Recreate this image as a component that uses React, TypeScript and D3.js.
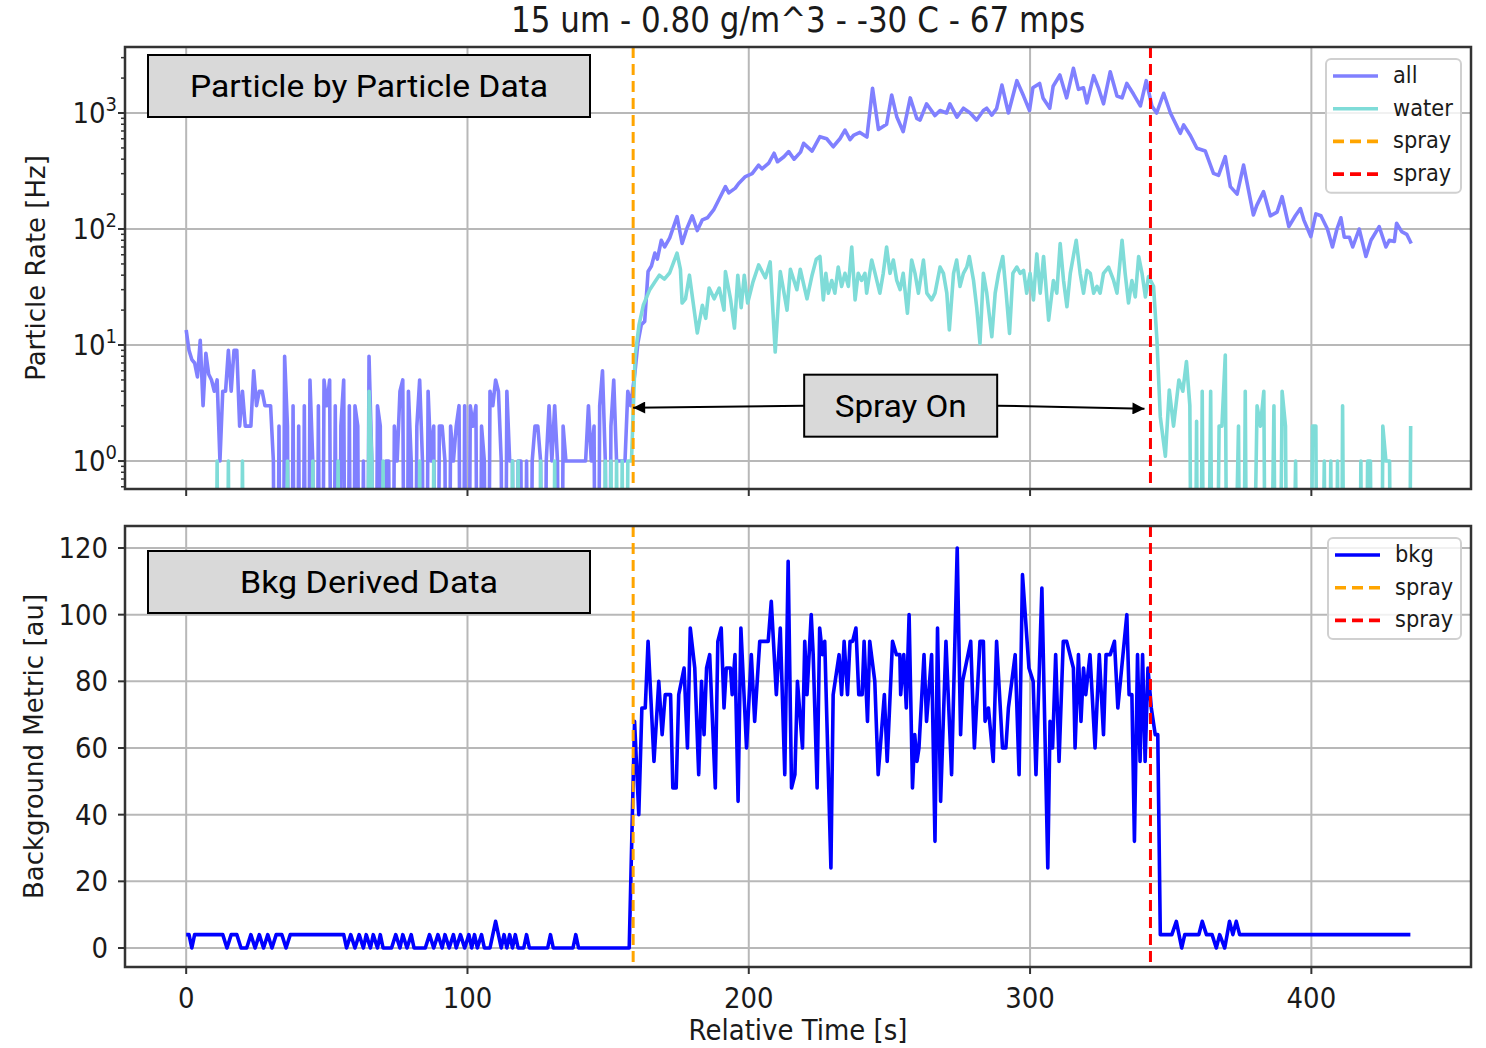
import React from "react";
import * as d3 from "d3";

// ---- values ----
const timeTicks = [0, 100, 200, 300, 400];
const rateTicks = [1, 10, 100, 1000];
const bkgTicks = [0, 20, 40, 60, 80, 100, 120];
const sprayOnTime = 158.9;
const sprayOffTime = 342.8;

// "all" rate [Hz], one value per second from t = 0 to 158 (0 = no counts)
const allPre = [
  13.5, 9, 7.5, 7, 5.3, 11, 3, 8.5, 5.6, 5,
  4, 5, 1, 4, 4, 9, 4, 9, 9, 2,
  4, 2, 2, 2, 6, 3, 4, 4, 3, 3,
  3, 1, 0, 2, 0, 8, 2, 0, 3, 0,
  2, 0, 3, 0, 5, 1, 0, 3, 0, 5,
  3, 5, 0, 3, 0, 2, 5, 0, 3, 0,
  3, 2, 0, 1, 0, 8, 1, 0, 3, 2,
  0, 1, 1, 0, 2, 1, 4, 5, 0, 4,
  1, 0, 2, 5, 1, 0, 4, 1, 2, 0,
  2, 2, 1, 0, 2, 1, 2, 3, 0, 3,
  0, 3, 2, 3, 0, 2, 1, 0, 4, 3,
  5, 4, 1, 0, 4, 1, 1, 0, 1, 1,
  0, 1, 0, 1, 2, 2, 1, 0, 1, 3,
  1, 3, 1, 0, 2, 1, 1, 1, 1, 1,
  1, 1, 1, 3, 1, 2, 0, 3, 6, 1,
  0, 2, 5, 1, 1, 1, 1, 4, 3,
];

// "all" rate after spray start, [time, Hz]
const allSpray: [number, number][] = [
  [159.5, 5.7], [160.6, 10.5], [161.8, 15], [163, 16], [164.2, 43], [165.4, 48], [166.6, 62],
  [167.5, 55], [168.9, 80], [170.1, 70], [171.9, 84], [174.5, 128], [176.3, 75], [178, 101],
  [179.9, 130], [181.7, 97], [183.5, 120], [185.3, 125], [187.5, 146], [189.3, 178], [191.7, 232],
  [192.9, 205], [195.2, 225], [196.4, 247], [198.8, 283], [201.2, 300], [203.5, 355], [204.7, 330],
  [207.1, 370], [209, 450], [210.2, 380], [212.5, 420], [214.2, 465], [216.1, 400], [218.4, 460],
  [219.5, 548], [222.5, 470], [225.3, 625], [227.7, 600], [230, 512], [232.4, 600], [234.2, 713],
  [236, 590], [237.2, 640], [239.5, 680], [242, 620], [244, 1633], [246.1, 720], [249, 800],
  [250.8, 1430], [252.6, 930], [254.9, 690], [257.4, 1350], [259.7, 900], [260.9, 870], [263.2, 1200],
  [266.2, 950], [268, 1050], [270.3, 1000], [271.5, 1200], [274, 920], [276.3, 1100], [278.7, 1000],
  [281, 870], [283.4, 1050], [284.6, 1100], [286.4, 960], [288.1, 1090], [290, 1740], [292.3, 1000],
  [295.3, 1900], [297.7, 1400], [299.8, 1050], [301, 1650], [303.4, 1800], [304.6, 1350], [307, 1100],
  [308.2, 1700], [310.6, 2126], [313, 1350], [315.4, 2430], [317.2, 1600], [319, 1650], [320.2, 1220],
  [322.6, 2100], [324.4, 1620], [326.1, 1200], [328.5, 2270], [330.9, 1400], [332.7, 1350], [334.4, 1800],
  [336.8, 1450], [339.2, 1150], [341.3, 1900], [343.3, 1150], [345, 1000], [347.5, 1480], [349.9, 1000],
  [353.4, 668], [354.6, 790], [357, 640], [359.3, 497], [362.3, 470], [365.2, 302], [367, 290],
  [369.4, 420], [371.2, 232], [373.6, 200], [375.9, 356], [379.4, 132], [380.6, 160], [383, 210],
  [385.4, 130], [387.8, 140], [389.6, 190], [392, 105], [394.3, 130], [396.1, 150], [397.3, 120],
  [399.8, 86], [401.6, 135], [403.4, 130], [405.7, 100], [407.5, 70], [409.1, 100], [410.5, 125],
  [411.7, 85], [413.5, 85], [414.7, 70], [417, 100], [419.4, 58], [421.2, 80], [424.1, 105],
  [426.5, 70], [427.7, 80], [429.5, 78], [430.3, 112], [432.1, 95], [433.9, 90], [435.5, 75],
];

// "water" rate [Hz], one value per second from t = 0 to 157
const waterPre = [
  0, 0, 0, 0, 0, 0, 0, 0, 0, 0,
  0, 1, 0, 0, 0, 1, 0, 0, 0, 0,
  1, 0, 0, 0, 0, 0, 0, 0, 0, 0,
  0, 0, 0, 0, 0, 0, 1, 0, 0, 0,
  0, 0, 0, 0, 0, 1, 0, 0, 0, 0,
  0, 0, 0, 0, 1, 0, 0, 0, 0, 0,
  0, 0, 0, 0, 0, 4, 1, 0, 0, 0,
  1, 0, 0, 0, 0, 0, 0, 0, 0, 0,
  0, 0, 0, 1, 0, 0, 0, 0, 1, 0,
  0, 0, 0, 0, 0, 0, 0, 0, 0, 0,
  0, 0, 0, 0, 0, 0, 0, 0, 0, 0,
  0, 0, 0, 0, 0, 0, 1, 0, 1, 0,
  0, 0, 0, 0, 0, 0, 1, 0, 0, 0,
  0, 1, 0, 0, 0, 0, 0, 0, 0, 0,
  0, 0, 0, 0, 0, 0, 0, 0, 0, 1,
  0, 1, 0, 1, 0, 1, 0, 1,
];

// "water" rate after spray start, [time, Hz]
const waterSpray: [number, number][] = [
  [158.3, 1], [159.6, 8], [161, 15], [162.5, 22], [164.8, 30], [166.6, 35], [168.2, 40], [170, 37],
  [171.9, 42], [174.5, 62], [175.7, 45], [176.3, 23], [177.5, 25], [178.9, 40], [181.7, 12.7],
  [183.5, 22], [184.7, 17], [185.9, 31], [187.7, 25], [189.5, 31], [191.2, 20], [191.7, 43],
  [193.5, 25], [194.9, 14], [196.1, 40], [197.3, 21], [198.4, 40], [199.6, 23], [201.5, 35],
  [203.5, 49], [205.9, 38], [207.6, 52], [209.4, 8.7], [211.2, 43], [213.6, 20], [214.8, 45],
  [217.1, 30], [218.3, 45], [220.7, 25], [222.5, 40], [224, 55], [225.3, 58], [226.5, 24.5],
  [227.4, 41.5], [228.3, 28], [229.5, 36], [230.6, 28], [231.8, 47], [233, 32], [234.2, 41.5],
  [235.4, 32], [236.6, 70], [237.8, 24.5], [238.9, 41.5], [240.1, 36], [241.3, 41.5], [241.9, 28],
  [243.7, 54], [244.9, 41.5], [246.6, 28], [247.8, 41.5], [249, 70], [250.2, 41.5], [251.4, 54],
  [252.6, 36], [253.8, 30], [254.9, 41.5], [256.4, 18.8], [257.9, 54], [259.1, 41.5], [260.3, 28],
  [262.1, 54], [263.3, 28], [265, 24.5], [266.2, 28], [268, 47], [269.2, 41.5], [270.4, 28],
  [271.3, 13.5], [272.8, 41.5], [273.9, 54], [275.1, 32], [276.3, 41.5], [277.5, 47], [278.4, 58],
  [279.9, 36], [281, 21.4], [282.2, 10.3], [283.4, 41.5], [284.6, 28], [286.4, 11.8], [287.6, 28],
  [288.8, 41.5], [290.3, 58], [291.5, 28], [292.7, 12.6], [293.9, 41.5], [295.3, 47], [296.5, 41.5],
  [297.7, 44], [298.8, 28], [300, 41.5], [301.2, 24.5], [302.4, 61], [303.6, 28], [304.8, 58],
  [306.6, 16.4], [308.3, 36], [309.5, 28], [310.7, 75], [311.9, 36], [313.1, 21.4], [314.3, 41.5],
  [316.4, 80], [317.8, 41.5], [319, 28], [320.2, 44], [321.4, 41.5], [322.6, 28], [323.8, 32],
  [324.9, 28], [326.1, 41.5], [327.9, 47], [329.7, 36], [330.9, 28], [332.7, 80], [333.8, 41.5],
  [335, 23], [336.2, 36], [337.4, 26], [338.6, 58], [339.8, 41.5], [341, 26], [342.1, 39],
  [343.9, 32], [345.1, 11], [346.3, 2.4], [348.1, 1.1], [349.5, 4.1], [351, 2], [352.9, 5],
  [354.3, 4], [355.6, 7.2], [356.8, 3], [358, 0], [359.2, 2.2], [360, 0], [361.2, 4], [362.4, 0],
  [364.2, 4], [365.4, 0], [367.2, 2], [368.2, 2], [369.4, 8.2], [370.6, 0], [374.1, 2], [375.3, 0],
  [376.5, 4], [377.7, 0], [380.7, 3], [381.9, 2], [383.1, 4], [384.3, 0], [386.7, 3], [387.9, 0],
  [389.6, 4], [390.8, 2], [392, 0], [394.4, 1], [395.6, 0], [399.2, 0], [400.4, 2], [401.6, 2],
  [402.5, 0], [404.6, 1], [405.6, 0], [406.9, 1], [408, 0], [409.3, 1], [410.2, 0], [411.1, 3],
  [412.3, 0], [416.5, 0], [417.6, 1], [418.6, 0], [420, 1], [421, 1], [422, 0], [424.5, 0],
  [425.4, 2], [426.5, 1], [427.8, 1], [429, 0], [434.3, 0], [435.3, 2],
];

// background metric [au], [time, value]
const bkgPre: [number, number][] = [
  [0, 4], [1, 4], [2, 0], [3, 4], [13, 4], [14.5, 0], [16, 4], [18, 4], [19.5, 0], [21.5, 0],
  [23, 4], [24.5, 0], [26, 4], [27.5, 0], [29, 4], [30.5, 0], [32, 4], [34, 4], [35.5, 0], [37, 4],
  [56, 4], [57, 0], [58.5, 4], [60, 0], [61.5, 4], [63, 0], [64, 4], [65.5, 0], [66.5, 4], [68, 0],
  [69, 4], [70, 0], [73, 0], [74.5, 4], [76, 0], [77, 4], [78.5, 0], [80, 4], [81, 0], [85, 0],
  [86.5, 4], [88, 0], [89.5, 4], [91, 0], [92, 4], [93.5, 0], [95, 4], [96, 0], [97.5, 4], [99, 0],
  [100.5, 4], [101.5, 0], [102.5, 4], [103.5, 0], [105, 4], [106, 0], [108, 0], [109, 4], [110, 8],
  [111, 4], [112, 0], [113, 4], [114, 0], [115, 4], [116, 0], [117, 4], [118, 0], [120, 0], [121, 4],
  [122, 0], [128.5, 0], [129.5, 4], [130.5, 0], [137.5, 0], [138.5, 4], [139.5, 0], [157.5, 0],
];
const bkgSpray: [number, number][] = [
  [159.4, 68], [160.9, 40], [162, 72], [163.2, 72], [164.2, 92], [166.3, 56], [168, 80], [169.2, 64],
  [170.3, 76], [172.2, 76], [173, 48], [174.2, 48], [175.1, 76], [177, 84], [178.2, 60], [179.2, 96],
  [180.8, 84], [182.2, 52], [183.2, 80], [184.1, 64], [185, 84], [186.1, 88], [188.1, 48], [189, 92],
  [190.2, 96], [191.2, 72], [192, 84], [193.5, 84], [194.1, 76], [195.1, 88], [196.2, 44], [197.2, 96],
  [199.2, 60], [200.9, 88], [202.1, 68], [203.9, 92], [206.9, 92], [208, 104], [209.8, 76], [211.2, 96],
  [212.8, 52], [214, 116], [215.2, 48], [216.4, 52], [217.3, 80], [219.1, 60], [219.9, 92], [220.7, 76],
  [222.2, 100], [222.9, 88], [224.3, 48], [225.2, 96], [226.2, 88], [227, 92], [229.2, 24], [230, 76],
  [232.1, 88], [233, 76], [233.9, 92], [235.1, 76], [236, 92], [236.9, 92], [238.1, 96], [239.1, 76],
  [240.3, 76], [241, 92], [242.2, 68], [243, 92], [244.8, 80], [246, 52], [248.2, 76], [249.2, 56],
  [251.1, 92], [252.5, 88], [253.7, 88], [254, 76], [255.1, 88], [256, 72], [257, 100], [258.2, 48],
  [259, 64], [259.8, 56], [260.5, 60], [262.3, 88], [263.2, 68], [265, 88], [266.2, 32], [267.1, 96],
  [268.2, 44], [270.1, 92], [272.1, 52], [274.1, 120], [275.3, 64], [276, 80], [278.9, 92], [280.2, 60],
  [282.2, 92], [283.4, 92], [284, 68], [285.2, 72], [286.9, 56], [288.1, 92], [290.2, 60], [291.4, 60],
  [292.3, 72], [294.7, 88], [296.1, 52], [297.3, 112], [299.6, 84], [301.1, 80], [302.1, 52],
  [304.2, 108], [306.3, 24], [307.1, 68], [308, 60], [309.1, 88], [310.3, 56], [311.8, 92], [313, 92],
  [315.4, 84], [316, 60], [317.2, 88], [318.1, 68], [319, 84], [319.8, 76], [321.3, 88], [323.1, 60],
  [324.6, 88], [326.1, 64], [327, 88], [328.5, 88], [330, 92], [331.2, 72], [334.4, 100], [335.2, 76],
  [336.2, 76], [337.1, 32], [338.2, 88], [339.1, 56], [340, 88], [340.9, 56], [341.9, 84], [343.1, 72],
  [344.5, 64], [345.4, 64],
];
const bkgPost: [number, number][] = [
  [346.3, 4], [350.4, 4], [352, 8], [353.9, 0], [355, 4], [360, 4], [361.2, 8], [362.7, 4], [364.7, 4],
  [366.2, 0], [367.4, 4], [369.2, 0], [370.9, 8], [372.1, 4], [373.3, 8], [374.5, 4], [435.2, 4],
];

// ---- layout ----
const W = 1486;
const H = 1048;
const LEFT = 125;
const RIGHT = 1471;
const TOP_P = { top: 47, bottom: 489 };
const BOT_P = { top: 526, bottom: 967 };

const FONT = "'DejaVu Sans', sans-serif";
const BOX_FONT = "Roboto, 'Noto Sans', sans-serif";
const TXT = "#1a1a1a";
const GRID = "#b8b8b8";
const ALL_C = "#8080ff";
const WATER_C = "#7fdcd8";
const BKG_C = "#0000ff";
const ORANGE = "#ffa500";
const RED = "#ff0000";
const LW = 3.6;

type Pt = [number, number];

const allPoints: Pt[] = allPre.map((v, i) => [i, v] as Pt).concat(allSpray);
const waterPoints: Pt[] = waterPre.map((v, i) => [i, v] as Pt).concat(waterSpray);
const bkgPoints: Pt[] = bkgPre.concat(bkgSpray, bkgPost);

const x = d3.scaleLinear().domain([-21.75, 456.75]).range([LEFT, RIGHT]);
const yRate = d3.scaleLog().domain([0.574, 3707]).range([TOP_P.bottom, TOP_P.top]);
const yBkg = d3.scaleLinear().domain([-5.7, 126.6]).range([BOT_P.bottom, BOT_P.top]);

const rateLine = d3
  .line<Pt>()
  .x((d) => x(d[0]))
  .y((d) => (d[1] > 0 ? yRate(d[1]) : yRate(1e-4)));
const bkgLine = d3
  .line<Pt>()
  .x((d) => x(d[0]))
  .y((d) => yBkg(d[1]));

const [rMin, rMax] = yRate.domain();
const minorRate = d3
  .range(-1, 4)
  .flatMap((k) => d3.range(2, 10).map((m) => m * Math.pow(10, k)))
  .filter((v) => v >= rMin && v <= rMax);

// matplotlib text in the reference is drawn a little taller than wide
const STRETCH = 1.12;
const MText = ({ x0, y0, size, anchor = "start", rotate = 0, children }: { x0: number; y0: number; size: number; anchor?: string; rotate?: number; children: React.ReactNode }) => (
  <text
    transform={`translate(${x0},${y0}) rotate(${rotate}) scale(1,${rotate ? 1 : STRETCH})`}
    textAnchor={anchor}
    fontSize={size}
    fontFamily={FONT}
    fill={TXT}
  >
    {children}
  </text>
);

const Legend = ({ x0, y0, w, items }: { x0: number; y0: number; w: number; items: { label: string; color: string; dash?: boolean }[] }) => {
  const rowH = 32.7;
  const h = items.length * rowH + 3;
  return (
    <g>
      <rect x={x0} y={y0} width={w} height={h} rx={5} fill="#fff" fillOpacity={0.8} stroke="#d0d0d0" strokeWidth={2} />
      {items.map((it, i) => {
        const cy = y0 + 17 + i * rowH;
        return (
          <g key={i}>
            <line
              x1={x0 + 7}
              x2={x0 + 52}
              y1={cy}
              y2={cy}
              stroke={it.color}
              strokeWidth={LW}
              strokeDasharray={it.dash ? "11,6" : undefined}
            />
            <MText x0={x0 + 67} y0={cy + 7} size={21}>
              {it.label}
            </MText>
          </g>
        );
      })}
    </g>
  );
};

const NoteBox = ({ cx, cy, w, h, label, len }: { cx: number; cy: number; w: number; h: number; label: string; len: number }) => (
  <g>
    <rect x={cx - w / 2} y={cy - h / 2} width={w} height={h} fill="#d9d9d9" stroke="#000" strokeWidth={2} />
    <text
      x={cx}
      y={cy + 11}
      textAnchor="middle"
      fontSize={32}
      fontFamily={BOX_FONT}
      fill="#000"
      textLength={len}
      lengthAdjust="spacingAndGlyphs"
    >
      {label}
    </text>
  </g>
);

const Frame = ({ top, bottom }: { top: number; bottom: number }) => (
  <rect x={LEFT} y={top} width={RIGHT - LEFT} height={bottom - top} fill="none" stroke="#333" strokeWidth={2.5} />
);

export default function App() {
  const arrowY = yRate(3);
  const boxCx = x(254);
  const boxW = 193;
  return (
    <svg width={W} height={H} style={{ display: "block", position: "absolute", left: 0, top: 0, background: "#fff" }}>
      <defs>
        <clipPath id="clipTop">
          <rect x={LEFT} y={TOP_P.top} width={RIGHT - LEFT} height={TOP_P.bottom - TOP_P.top} />
        </clipPath>
        <clipPath id="clipBot">
          <rect x={LEFT} y={BOT_P.top} width={RIGHT - LEFT} height={BOT_P.bottom - BOT_P.top} />
        </clipPath>
        <marker id="arrowHead" viewBox="0 0 10 10" refX={10} refY={5} markerWidth={7} markerHeight={6} orient="auto" markerUnits="strokeWidth">
          <path d="M0,0 L10,5 L0,10 z" fill="#000" />
        </marker>
      </defs>

      {/* title */}
      <MText x0={798} y0={32} size={31} anchor="middle">
        15 um - 0.80 g/m^3 - -30 C - 67 mps
      </MText>

      {/* ---------- top panel ---------- */}
      <g>
        {timeTicks.map((t) => (
          <line key={t} x1={x(t)} x2={x(t)} y1={TOP_P.top} y2={TOP_P.bottom} stroke={GRID} strokeWidth={2} />
        ))}
        {rateTicks.map((v) => (
          <line key={v} x1={LEFT} x2={RIGHT} y1={yRate(v)} y2={yRate(v)} stroke={GRID} strokeWidth={2} />
        ))}
        <g clipPath="url(#clipTop)">
          <path d={rateLine(allPoints) || ""} fill="none" stroke={ALL_C} strokeWidth={LW} strokeLinejoin="round" />
          <path d={rateLine(waterPoints) || ""} fill="none" stroke={WATER_C} strokeWidth={LW} strokeLinejoin="round" />
          <line x1={x(sprayOnTime)} x2={x(sprayOnTime)} y1={TOP_P.top} y2={TOP_P.bottom} stroke={ORANGE} strokeWidth={3} strokeDasharray="11,6" />
          <line x1={x(sprayOffTime)} x2={x(sprayOffTime)} y1={TOP_P.top} y2={TOP_P.bottom} stroke={RED} strokeWidth={3} strokeDasharray="11,6" />
        </g>
        <Frame top={TOP_P.top} bottom={TOP_P.bottom} />
        {rateTicks.map((v) => (
          <g key={v}>
            <line x1={LEFT - 7} x2={LEFT} y1={yRate(v)} y2={yRate(v)} stroke="#333" strokeWidth={2} />
            <MText x0={LEFT - 8} y0={yRate(v) + 10} size={26} anchor="end">
              10
              <tspan dy={-11} fontSize={18}>
                {Math.round(Math.log10(v))}
              </tspan>
            </MText>
          </g>
        ))}
        {minorRate.map((v) => (
          <line key={v} x1={LEFT - 4} x2={LEFT} y1={yRate(v)} y2={yRate(v)} stroke="#333" strokeWidth={1.5} />
        ))}
        {timeTicks.map((t) => (
          <line key={t} x1={x(t)} x2={x(t)} y1={TOP_P.bottom} y2={TOP_P.bottom + 7} stroke="#333" strokeWidth={2} />
        ))}
        <MText x0={45} y0={(TOP_P.top + TOP_P.bottom) / 2} size={26} anchor="middle" rotate={-90}>
          Particle Rate [Hz]
        </MText>
        <Legend
          x0={1326}
          y0={59}
          w={135}
          items={[
            { label: "all", color: ALL_C },
            { label: "water", color: WATER_C },
            { label: "spray", color: ORANGE, dash: true },
            { label: "spray", color: RED, dash: true },
          ]}
        />
        <NoteBox cx={369} cy={86} w={442} h={62} label="Particle by Particle Data" len={358} />
        <line x1={boxCx - boxW / 2} y1={arrowY} x2={x(sprayOnTime)} y2={arrowY + 2} stroke="#000" strokeWidth={2} markerEnd="url(#arrowHead)" />
        <line x1={boxCx + boxW / 2} y1={arrowY} x2={x(sprayOffTime) - 6} y2={arrowY + 3} stroke="#000" strokeWidth={2} markerEnd="url(#arrowHead)" />
        <NoteBox cx={boxCx} cy={arrowY} w={boxW} h={62} label="Spray On" len={132} />
      </g>

      {/* ---------- bottom panel ---------- */}
      <g>
        {timeTicks.map((t) => (
          <line key={t} x1={x(t)} x2={x(t)} y1={BOT_P.top} y2={BOT_P.bottom} stroke={GRID} strokeWidth={2} />
        ))}
        {bkgTicks.map((v) => (
          <line key={v} x1={LEFT} x2={RIGHT} y1={yBkg(v)} y2={yBkg(v)} stroke={GRID} strokeWidth={2} />
        ))}
        <g clipPath="url(#clipBot)">
          <path d={bkgLine(bkgPoints) || ""} fill="none" stroke={BKG_C} strokeWidth={LW} strokeLinejoin="round" />
          <line x1={x(sprayOnTime)} x2={x(sprayOnTime)} y1={BOT_P.top} y2={BOT_P.bottom} stroke={ORANGE} strokeWidth={3} strokeDasharray="11,6" />
          <line x1={x(sprayOffTime)} x2={x(sprayOffTime)} y1={BOT_P.top} y2={BOT_P.bottom} stroke={RED} strokeWidth={3} strokeDasharray="11,6" />
        </g>
        <Frame top={BOT_P.top} bottom={BOT_P.bottom} />
        {bkgTicks.map((v) => (
          <g key={v}>
            <line x1={LEFT - 7} x2={LEFT} y1={yBkg(v)} y2={yBkg(v)} stroke="#333" strokeWidth={2} />
            <MText x0={LEFT - 17} y0={yBkg(v) + 10} size={26} anchor="end">
              {v}
            </MText>
          </g>
        ))}
        {timeTicks.map((t) => (
          <g key={t}>
            <line x1={x(t)} x2={x(t)} y1={BOT_P.bottom} y2={BOT_P.bottom + 7} stroke="#333" strokeWidth={2} />
            <MText x0={x(t)} y0={1008} size={26} anchor="middle">
              {t}
            </MText>
          </g>
        ))}
        <MText x0={43} y0={(BOT_P.top + BOT_P.bottom) / 2} size={26} anchor="middle" rotate={-90}>
          Background Metric [au]
        </MText>
        <MText x0={798} y0={1040} size={26} anchor="middle">
          Relative Time [s]
        </MText>
        <Legend
          x0={1328}
          y0={538}
          w={133}
          items={[
            { label: "bkg", color: BKG_C },
            { label: "spray", color: ORANGE, dash: true },
            { label: "spray", color: RED, dash: true },
          ]}
        />
        <NoteBox cx={369} cy={582} w={442} h={62} label="Bkg Derived Data" len={258} />
      </g>
    </svg>
  );
}
